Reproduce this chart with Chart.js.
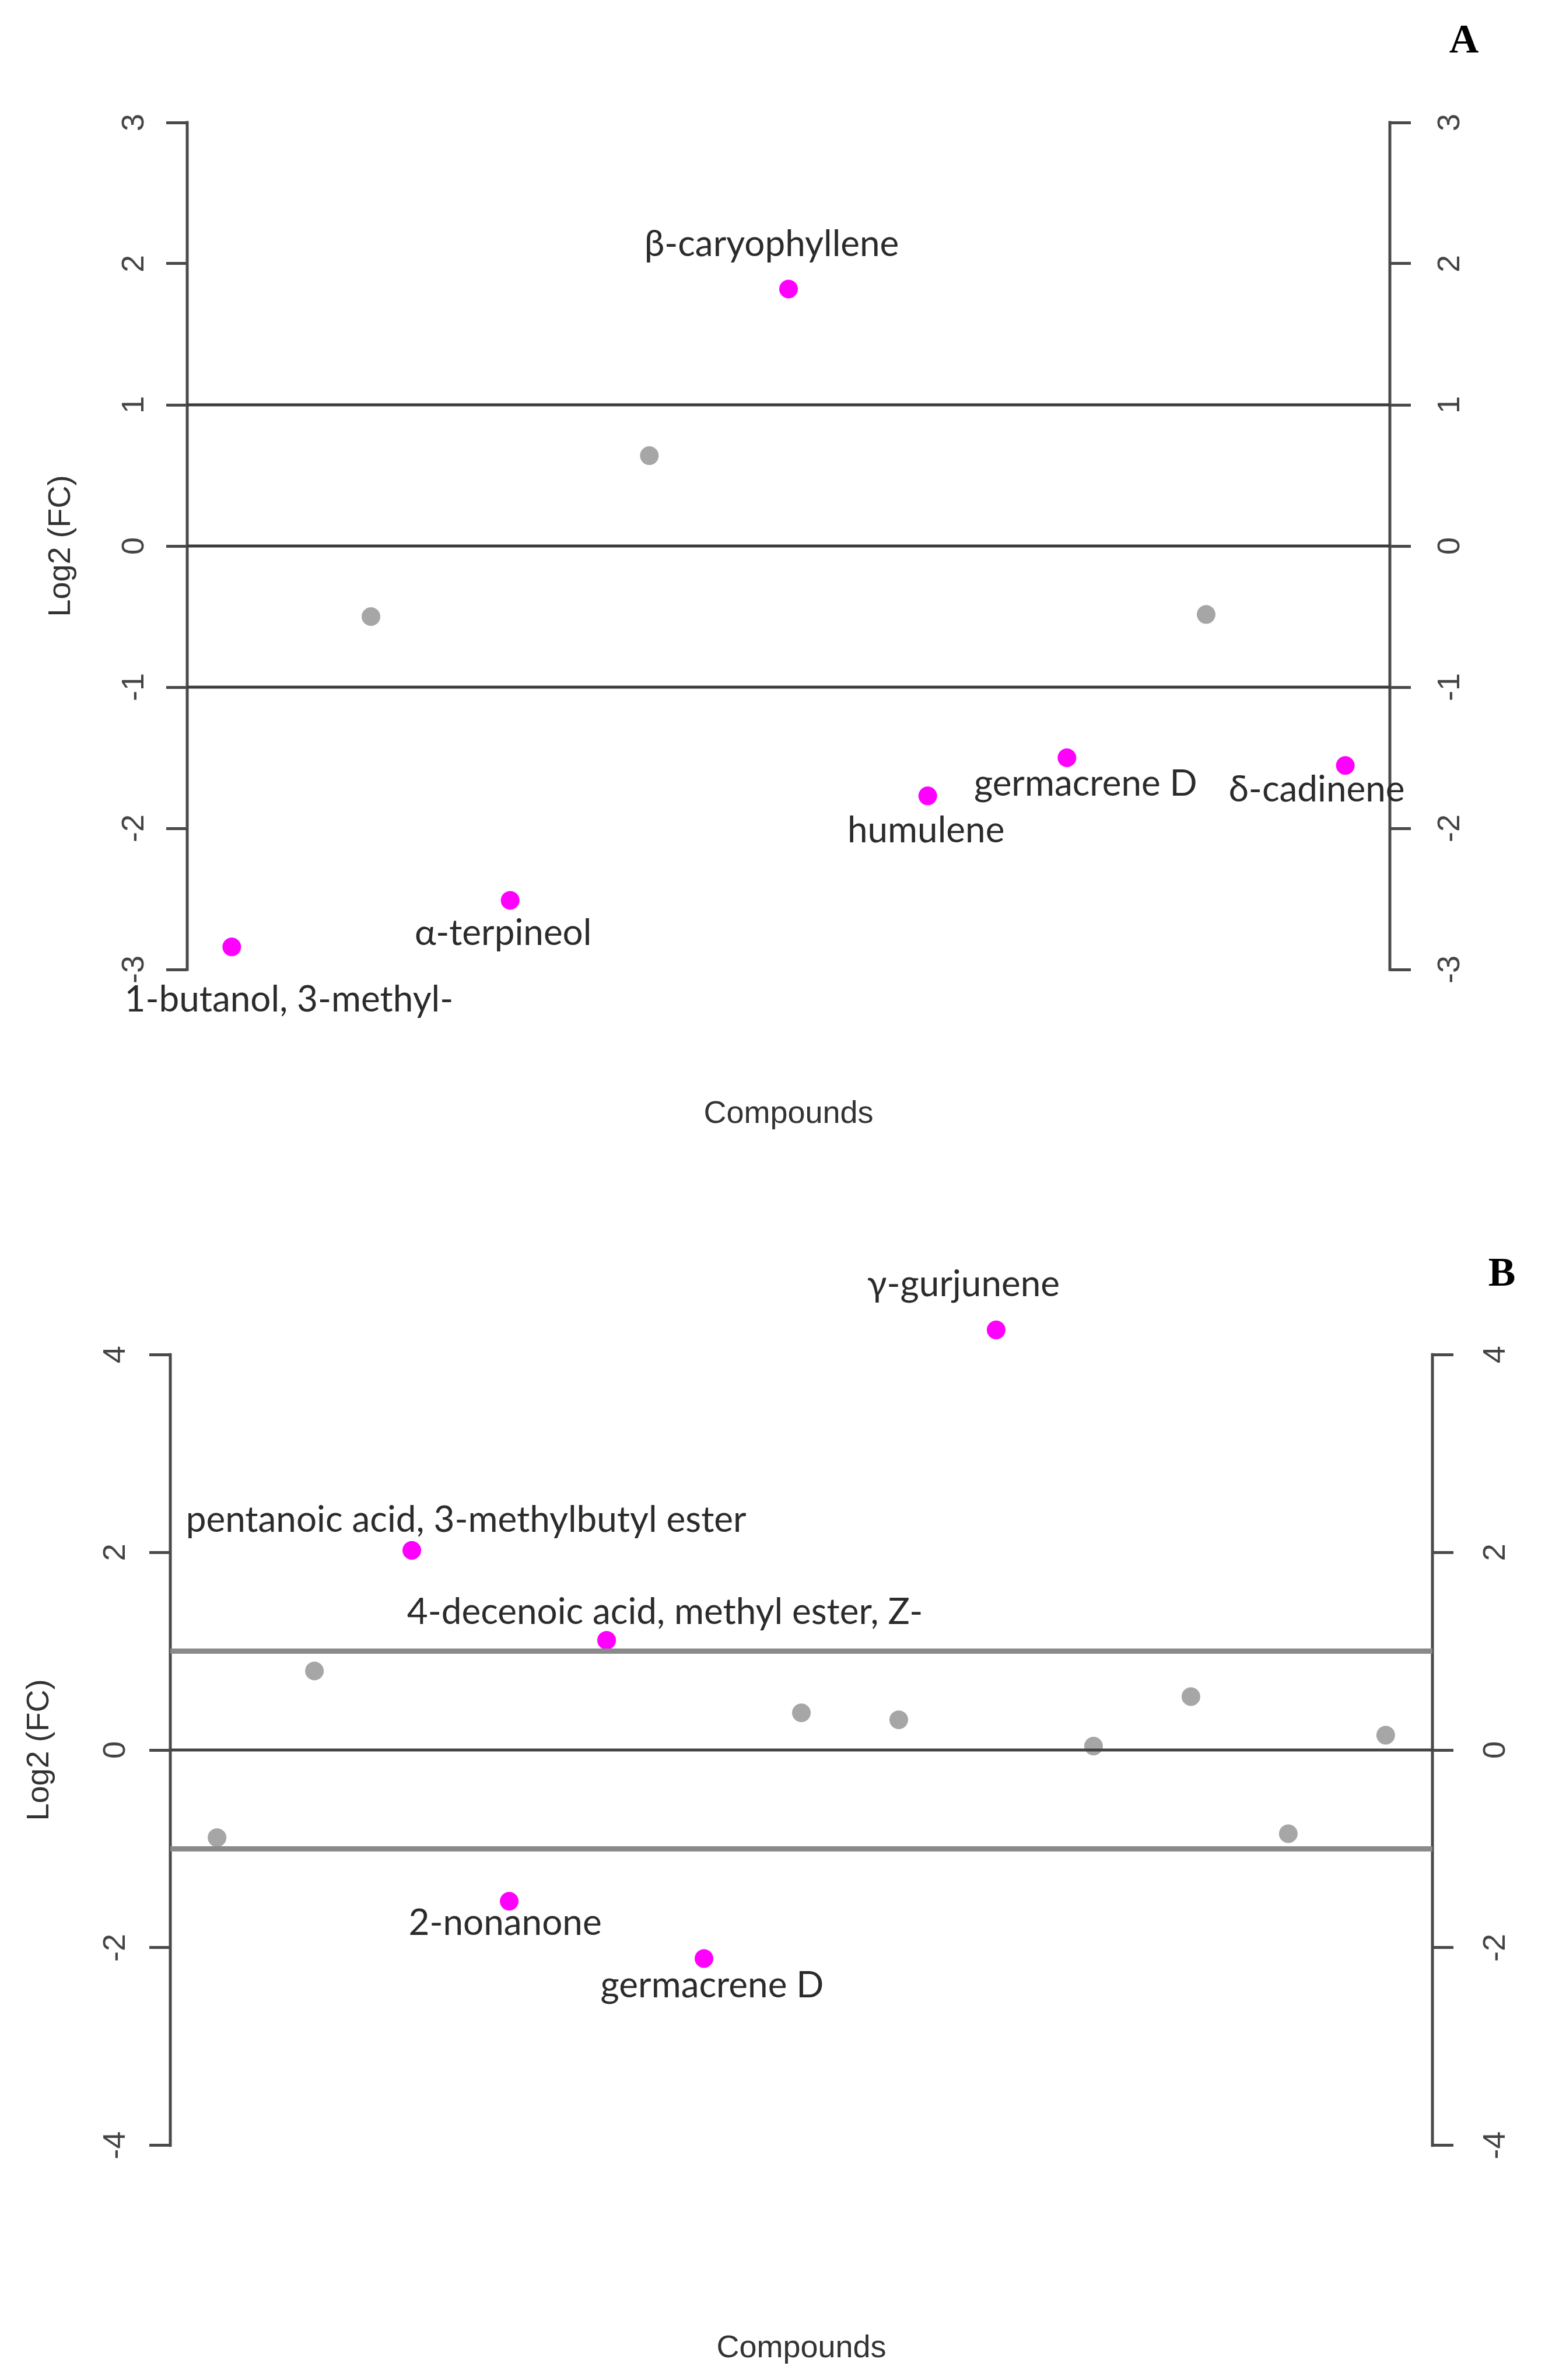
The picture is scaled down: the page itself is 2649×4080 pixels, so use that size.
<!DOCTYPE html>
<html>
<head>
<meta charset="utf-8">
<script src="https://cdn.jsdelivr.net/npm/chart.js@4.4.1/dist/chart.umd.min.js"></script>
<style>
  html, body { margin: 0; padding: 0; background: #fff; }
  .panel { position: relative; width: 2649px; }
  #panelA { height: 2000px; }
  #panelB { height: 2080px; }
</style>
</head>
<body>
<div class="panel" id="panelA"><canvas id="chartA"></canvas></div>
<div class="panel" id="panelB"><canvas id="chartB"></canvas></div>
<script>
// ---- data (panel A) ----
const compoundsA = ['1-butanol, 3-methyl-', '', 'α-terpineol', '', 'β-caryophyllene', 'humulene', 'germacrene D', '', 'δ-cadinene'];
const log2fcA = [-2.84, -0.50, -2.51, 0.64, 1.82, -1.77, -1.50, -0.485, -1.555];
const ticksA = [-3, -2, -1, 0, 1, 2, 3];
const cutoffsA = [1, 0, -1];

// ---- data (panel B) ----
const compoundsB = ['', '', 'pentanoic acid, 3-methylbutyl ester', '2-nonanone', '4-decenoic acid, methyl ester, Z-', 'germacrene D', '', '', 'γ-gurjunene', '', '', '', ''];
const log2fcB = [-0.886, 0.80, 2.02, -1.53, 1.11, -2.11, 0.376, 0.306, 4.25, 0.04, 0.54, -0.847, 0.15];
const ticksB = [-4, -2, 0, 2, 4];
const cutoffsB = [1, 0, -1];

// label offsets from the point centre (px), text centre
const offsetsA = [[98, 91], null, [-12, 57], null, [-29, -77], [-3, 60], [32, 45], null, [-49, 42]];
const offsetsB = [null, null, [93, -52], [-7, 38], [100, -48], [14, 46], null, null, [-56, -78], null, null, null, null];

const MAGENTA = '#ff00ff';
const GREY = '#a6a6a6';
const AXIS = '#4a4a4a';

function rPlotDecor(cfg) {
    return {
        id: 'rPlotDecor',
        beforeDatasetsDraw(chart) {
            const ctx = chart.ctx;
            const area = chart.chartArea;
            const ys = chart.scales.y;
            const top = ys.getPixelForValue(cfg.ticks[cfg.ticks.length - 1]);
            const bottom = ys.getPixelForValue(cfg.ticks[0]);
            // axis lines only between first and last tick, like R's axis()
            ctx.save();
            ctx.strokeStyle = AXIS;
            ctx.lineWidth = 5;
            [area.left, area.right].forEach(px => {
                ctx.beginPath();
                ctx.moveTo(px, top - 2.5);
                ctx.lineTo(px, bottom + 2.5);
                ctx.stroke();
            });
            ctx.restore();
        },
        afterDatasetsDraw(chart) {
            const ctx = chart.ctx;
            const area = chart.chartArea;
            const ys = chart.scales.y;

            // cut-off lines
            cfg.cutoffs.forEach((c, i) => {
                const py = ys.getPixelForValue(c);
                ctx.save();
                ctx.strokeStyle = cfg.lineColors[i];
                ctx.lineWidth = cfg.lineWidths[i];
                ctx.beginPath();
                ctx.moveTo(area.left, py);
                ctx.lineTo(area.right, py);
                ctx.stroke();
                ctx.restore();
            });

            // compound labels
            const meta = chart.getDatasetMeta(0);
            ctx.save();
            ctx.font = '62px Lato';
            ctx.fillStyle = '#2b2b2b';
            ctx.textAlign = 'center';
            ctx.textBaseline = 'middle';
            cfg.names.forEach((name, i) => {
                const off = cfg.offsets[i];
                if (!name || !off) return;
                const pt = meta.data[i];
                ctx.fillText(name, pt.x + off[0], pt.y + off[1]);
            });
            ctx.restore();
        },
        afterDraw(chart) {
            const ctx = chart.ctx;
            const area = chart.chartArea;
            const ys = chart.scales.y;

            // rotated tick labels on both sides
            ctx.save();
            ctx.font = '54px "Liberation Sans"';
            ctx.fillStyle = '#444';
            ctx.textAlign = 'center';
            ctx.textBaseline = 'middle';
            cfg.ticks.forEach(v => {
                const py = ys.getPixelForValue(v);
                [area.left - cfg.tickGapLeft, area.right + cfg.tickGapRight].forEach(px => {
                    ctx.save();
                    ctx.translate(px, py);
                    ctx.rotate(-Math.PI / 2);
                    ctx.fillText(String(v), 0, 0);
                    ctx.restore();
                });
            });

            // axis titles
            ctx.fillStyle = '#333';
            const midY = (ys.getPixelForValue(cfg.ticks[0]) + ys.getPixelForValue(cfg.ticks[cfg.ticks.length - 1])) / 2;
            ctx.save();
            ctx.translate(cfg.yTitleX, midY);
            ctx.rotate(-Math.PI / 2);
            ctx.fillText('Log2 (FC)', 0, 0);
            ctx.restore();
            ctx.fillText('Compounds', (area.left + area.right) / 2, cfg.xTitleY);

            // panel letter
            ctx.font = 'bold 70px "Liberation Serif"';
            ctx.fillStyle = '#000';
            ctx.fillText(cfg.letter, cfg.letterPos[0], cfg.letterPos[1]);
            ctx.restore();
        }
    };
}

function makeChart(canvasId, names, values, ticks, cfg) {
    const n = values.length;
    const xPad = 0.04 * (n - 1);
    const yPad = cfg.yExtend * (ticks[ticks.length - 1] - ticks[0]);
    const yAxis = (pos, width) => ({
        type: 'linear',
        position: pos,
        min: ticks[0] - yPad,
        max: ticks[ticks.length - 1] + yPad,
        afterBuildTicks: s => { s.ticks = ticks.map(v => ({ value: v })); },
        afterFit: s => { s.width = width; },
        ticks: { display: false },
        grid: {
            drawOnChartArea: false,
            drawTicks: true,
            tickLength: 36,
            tickWidth: 5,
            tickColor: AXIS
        },
        border: { display: false }
    });

    return new Chart(document.getElementById(canvasId), {
        type: 'scatter',
        data: {
            datasets: [{
                data: values.map((v, i) => ({ x: i + 1, y: v })),
                backgroundColor: values.map(v => Math.abs(v) > 1 ? MAGENTA : GREY),
                borderWidth: 0,
                pointRadius: 16,
                pointHoverRadius: 16,
                clip: false
            }]
        },
        options: {
            responsive: true,
            maintainAspectRatio: false,
            animation: false,
            devicePixelRatio: 1,
            layout: { padding: { top: cfg.top, bottom: cfg.bottom, left: 0, right: 0 } },
            plugins: { legend: { display: false }, tooltip: { enabled: false } },
            scales: {
                x: { type: 'linear', display: false, min: 1 - xPad, max: n + xPad },
                y: yAxis('left', cfg.left),
                y2: yAxis('right', cfg.right)
            }
        },
        plugins: [rPlotDecor(Object.assign({ names, ticks }, cfg))]
    });
}

makeChart('chartA', compoundsA, log2fcA, ticksA, {
    yExtend: 0, top: 210, bottom: 338, left: 321, right: 266,
    cutoffs: cutoffsA,
    lineColors: ['#3a3a3a', '#3a3a3a', '#3a3a3a'],
    lineWidths: [5, 5, 5],
    offsets: offsetsA,
    tickGapLeft: 90, tickGapRight: 104,
    yTitleX: 105, xTitleY: 1910,
    letter: 'A', letterPos: [2510, 72]
});

makeChart('chartB', compoundsB, log2fcB, ticksB, {
    yExtend: 0.04, top: 268, bottom: 348, left: 292, right: 193,
    cutoffs: cutoffsB,
    lineColors: ['#8a8a8a', '#444444', '#8a8a8a'],
    lineWidths: [9, 5, 9],
    offsets: offsetsB,
    tickGapLeft: 93, tickGapRight: 109,
    yTitleX: 68, xTitleY: 2026,
    letter: 'B', letterPos: [2575, 186]
});
</script>
</body>
</html>
